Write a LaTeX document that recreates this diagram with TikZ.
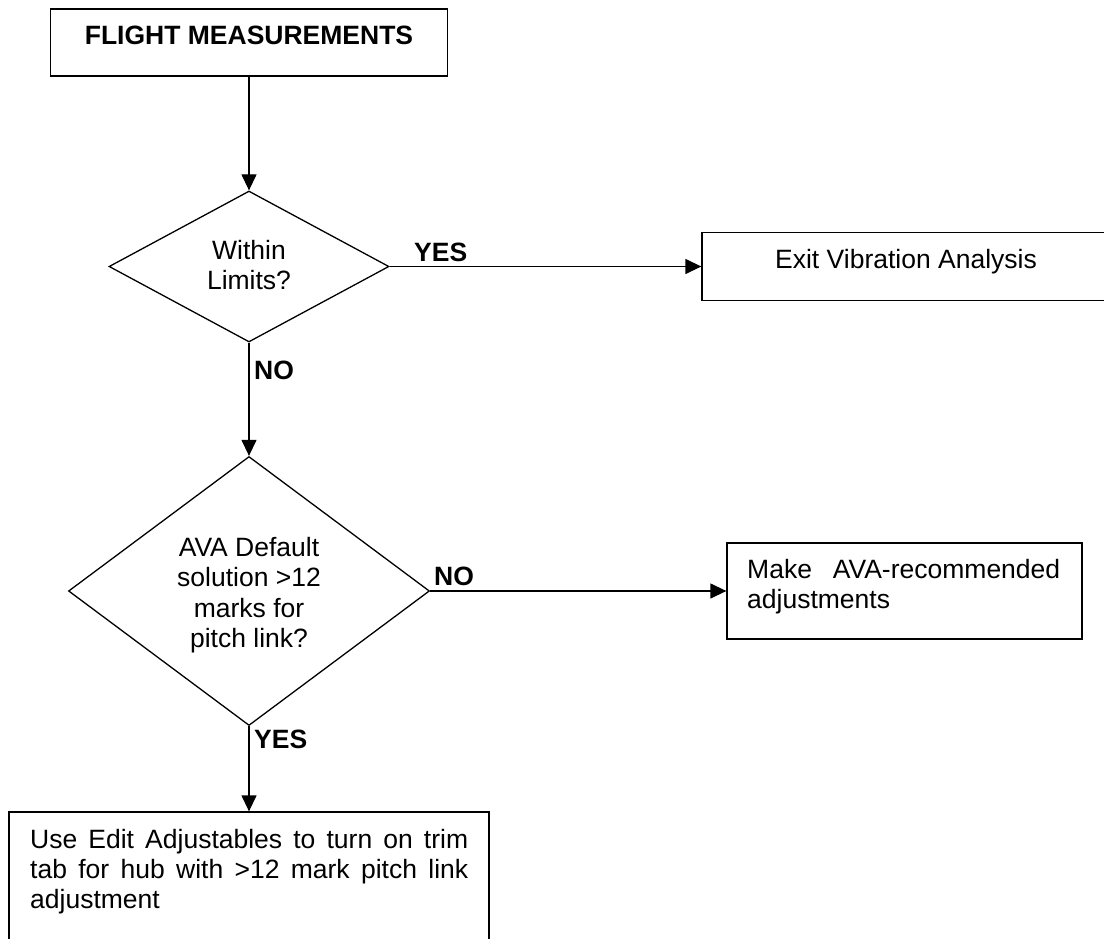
\documentclass[tikz,border=0pt]{standalone}
\usepackage{fontspec}
\setmainfont{Liberation Sans}
\usetikzlibrary{shapes.geometric,arrows.meta}
\begin{document}
\begin{tikzpicture}[x=1pt,y=-1pt,
  box/.style={draw,line width=1.3pt,inner sep=0pt,fill=white},
  decision/.style={draw,diamond,line width=1.3pt,inner sep=0pt},
  txt/.style={inner sep=0pt,font=\fontsize{26.5}{30}\selectfont},
  boldtxt/.style={inner sep=0pt,font=\fontsize{26.5}{30}\selectfont\bfseries},
  conn/.style={line width=1.3pt,-{Triangle[length=16pt,width=15pt]}}]
\clip (0,0) rectangle (1104,939);
\fill[white] (0,0) rectangle (1104,939);
% boxes
\node[box,minimum width=397pt,minimum height=67pt] (top) at (249,42.5) {};
\node[decision,minimum width=280pt,minimum height=151pt] (d1) at (249,266.5) {};
\node[box,minimum width=408pt,minimum height=68pt] (exit) at (906,266.5) {};
\node[decision,minimum width=361pt,minimum height=269pt] (d2) at (249,591) {};
\node[box,minimum width=355pt,minimum height=96pt] (make) at (904.5,591) {};
\node[box,minimum width=480pt,minimum height=200pt] (use) at (249,912) {};
% texts
\node[boldtxt,anchor=base] (ttop) at (249,45) {FLIGHT MEASUREMENTS};
\node[txt,anchor=base] (w1) at (249,259) {Within};
\node[txt,anchor=base] (w2) at (249,289) {Limits?};
\node[txt,anchor=base] (texit) at (906,268) {Exit Vibration Analysis};
\node[txt,anchor=base] (a1) at (249,556) {AVA Default};
\node[txt,anchor=base] (a2) at (249,586.5) {solution >12};
\node[txt,anchor=base] (a3) at (249,617) {marks for};
\node[txt,anchor=base] (a4) at (249,647) {pitch link?};
\node[txt,anchor=base west] (m1) at (747,578) {\makebox[313pt][s]{Make AVA-recommended}};
\node[txt,anchor=base west] (m2) at (747,608) {adjustments};
\node[txt,anchor=base west] (u1) at (30,848) {\makebox[438pt][s]{Use Edit Adjustables to turn on trim}};
\node[txt,anchor=base west] (u2) at (30,878) {\makebox[438pt][s]{tab for hub with >12 mark pitch link}};
\node[txt,anchor=base west] (u3) at (30,908) {adjustment};
% labels
\node[boldtxt,anchor=base west] (yes1) at (414,261) {YES};
\node[boldtxt,anchor=base west] (no1) at (254,379) {NO};
\node[boldtxt,anchor=base west] (no2) at (434,585) {NO};
\node[boldtxt,anchor=base west] (yes2) at (254,748) {YES};
% connectors
\draw[conn] (top.south) -- (d1.north);
\draw[conn] (d1.east) -- (exit.west);
\draw[conn] (d1.south) -- (d2.north);
\draw[conn] (d2.east) -- (make.west);
\draw[conn] (d2.south) -- (use.north);
\end{tikzpicture}
\end{document}
